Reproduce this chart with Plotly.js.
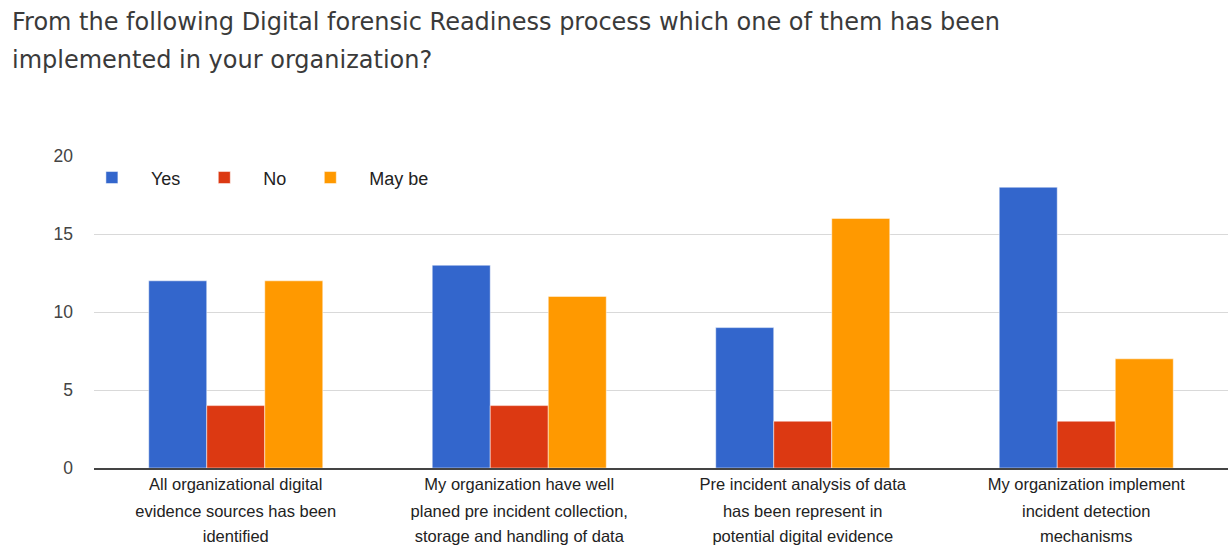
<!DOCTYPE html>
<html><head><meta charset="utf-8">
<script src="https://cdn.plot.ly/plotly-3.0.1.min.js"></script>
<style>html,body{margin:0;padding:0;background:#fff}#chart{width:1228px;height:551px}</style>
</head><body><div id="chart"></div>
<script>
var categories = [
  "All organizational digital<br>evidence sources has been<br>identified",
  "My organization have well<br>planed pre incident collection,<br>storage and handling of data",
  "Pre incident analysis of data<br>has been represent in<br>potential digital evidence",
  "My organization implement<br>incident detection<br>mechanisms"
];
var yesValues = [12, 13, 9, 18];
var noValues = [4, 4, 3, 3];
var maybeValues = [12, 11, 16, 7];
var seriesNames = ["Yes", "No", "May be"];
var titleLines = [
  "From the following Digital forensic Readiness process which one of them has been",
  "implemented in your organization?"
];

var colors = ["#3366cc", "#dc3912", "#ff9900"];
var vals = [yesValues, noValues, maybeValues];
var idx = categories.map(function(c, i){ return i; });
var traces = vals.map(function(v, i){
  return {type:"bar", x:idx, y:v, name:seriesNames[i],
    marker:{color:colors[i], line:{color:"#ffffff", width:0.5}}, hoverinfo:"y"};
});
// empty helper traces so that the extra label rows (axes x2, x3) are drawn
["x2","x3"].forEach(function(ax){
  traces.push({type:"scatter", mode:"markers", x:idx, y:idx.map(function(){return null;}),
    xaxis:ax, yaxis:"y", showlegend:false, hoverinfo:"skip", marker:{opacity:0}});
});

var rows = [0,1,2].map(function(r){
  return categories.map(function(c){ var p = c.split("<br>"); return p[r] || ""; });
});
var tickFont = {size:16.5, color:"#222"};
var xRange = [-0.5, categories.length - 0.5];

var layout = {
  width:1228, height:551,
  margin:{l:94, r:0, t:156, b:83},
  paper_bgcolor:"#fff", plot_bgcolor:"#fff",
  barmode:"group", bargap:0.386, bargroupgap:0,
  font:{family:"Liberation Sans, Arial, sans-serif", color:"#222", size:16},
  xaxis:{range:xRange, tickvals:idx, ticktext:rows[0], showgrid:false, zeroline:false, showline:true,
    linecolor:"#444", linewidth:2, tickfont:tickFont, ticks:"", ticklabelstandoff:0},
  xaxis2:{overlaying:"x", anchor:"y", side:"bottom", range:xRange, tickvals:idx, ticktext:rows[1],
    showgrid:false, zeroline:false, showline:false, tickfont:tickFont, ticks:"", ticklabelstandoff:31},
  xaxis3:{overlaying:"x", anchor:"y", side:"bottom", range:xRange, tickvals:idx, ticktext:rows[2],
    showgrid:false, zeroline:false, showline:false, tickfont:tickFont, ticks:"", ticklabelstandoff:56},
  yaxis:{range:[0,20], tickvals:[0,5,10,15,20], showgrid:true, gridcolor:"#d9d9d9", gridwidth:1,
    zeroline:false, showline:false, tickfont:{size:17.5, color:"#444"}, ticklabelstandoff:20},
  showlegend:true,
  legend:{orientation:"h", x:-0.0186, xanchor:"left", y:0.93, yanchor:"middle", itemwidth:68,
    font:{size:18, color:"#222"}, bgcolor:"rgba(0,0,0,0)"},
  annotations:[
    {text:titleLines[0], xref:"paper", yref:"paper", xanchor:"left", yanchor:"middle",
     showarrow:false, font:{family:"DejaVu Sans, sans-serif", size:24, color:"#3a3a3a"}},
    {text:titleLines[1], xref:"paper", yref:"paper", xanchor:"left", yanchor:"middle",
     showarrow:false, font:{family:"DejaVu Sans, sans-serif", size:24, color:"#3a3a3a"}}
  ]
};
var plotH = 551-156-83;
layout.annotations[0].y = 1 + (156-22)/plotH;
layout.annotations[1].y = 1 + (156-60)/plotH;
layout.annotations[0].x = (10-94)/(1228-94);
layout.annotations[1].x = (10-94)/(1228-94);

Plotly.newPlot("chart", traces, layout, {displayModeBar:false, staticPlot:true});
</script></body></html>
